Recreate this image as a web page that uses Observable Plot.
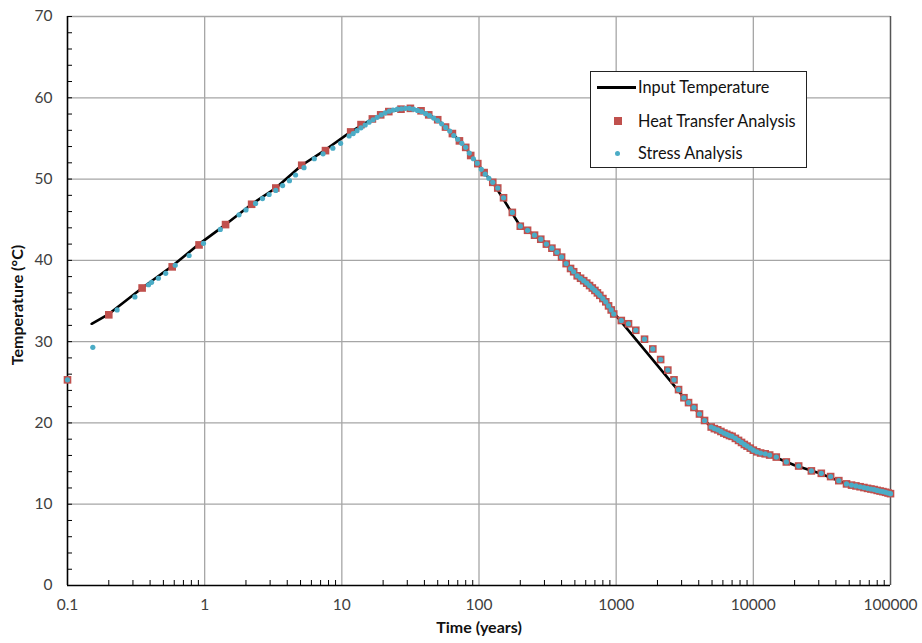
<!DOCTYPE html>
<html><head><meta charset="utf-8">
<script src="https://cdn.jsdelivr.net/npm/d3@7"></script>
<script src="https://cdn.jsdelivr.net/npm/@observablehq/plot@0.6"></script>
<style>
body{margin:0;background:#fff;}
#wrap{position:relative;width:922px;height:643px;font-family:Lato,"Open Sans",sans-serif;}
#legend{position:absolute;left:590px;top:71px;width:217px;height:97px;border:1.3px solid #222;background:#fff;box-sizing:border-box;}
.lt{position:absolute;left:47px;font-size:16.3px;color:#111;line-height:1;transform:translateY(-50%);white-space:nowrap;}
.sw{position:absolute;}
</style></head>
<body><div id="wrap"><div id="legend">
<div class="sw" style="left:6px;top:14px;width:39px;height:2.6px;background:#000;"></div>
<div class="lt" style="top:15px;">Input Temperature</div>
<div class="sw" style="left:22.5px;top:45px;width:8px;height:8px;background:#C0504D;"></div>
<div class="lt" style="top:49px;">Heat Transfer Analysis</div>
<div class="sw" style="left:24px;top:78.5px;width:5px;height:5px;border-radius:50%;background:#4BACC6;"></div>
<div class="lt" style="top:80.5px;">Stress Analysis</div>
</div></div>
<script>
// Tick values
const xTicks = [0.1, 1, 10, 100, 1000, 10000, 100000];
const xTickLabels = ["0.1", "1", "10", "100", "1000", "10000", "100000"];
const yTicks = [0, 10, 20, 30, 40, 50, 60, 70];

// Input Temperature (line)
const inputYears = [0.15, 0.2, 0.35, 0.58, 0.91, 1.42, 2.2, 3.3, 5.1, 7.6, 11.6, 16.7, 22, 27, 31.6, 37.8, 43, 50, 57, 64, 72, 80, 87, 98, 109, 126, 200, 300, 400, 500, 700, 1000, 2800, 3120, 3690, 4410, 4930, 7000, 10000, 13150, 20000, 30000, 47800, 100000];
const inputTemp = [32.2, 33.4, 36.6, 39.3, 42.0, 44.4, 46.9, 48.9, 51.7, 53.6, 55.8, 57.4, 58.3, 58.6, 58.7, 58.4, 57.9, 57.3, 56.4, 55.6, 54.7, 53.9, 52.9, 51.9, 50.8, 49.6, 44.2, 42.3, 40.4, 38.4, 36.3, 33.2, 24.1, 23.1, 21.9, 20.3, 19.5, 18.35, 16.65, 16.05, 14.8, 13.85, 12.5, 11.3];

// Heat Transfer Analysis (squares)
const heatYears = [0.1, 0.2, 0.35, 0.58, 0.91, 1.42, 2.2, 3.3, 5.1, 7.6, 11.6, 13.8, 16.7, 19.2, 22, 27, 31.6, 37.8, 43, 50, 57, 64, 72, 80, 87, 98, 109, 126, 137, 151, 175, 200, 226, 254, 282, 310, 340, 370, 400, 432, 465, 490, 520, 550, 580, 610, 640, 670, 700, 730, 760, 800, 840, 880, 920, 960, 1090, 1230, 1390, 1610, 1850, 2110, 2380, 2640, 2850, 3120, 3370, 3690, 4050, 4410, 4930, 5200, 5500, 5800, 6100, 6400, 6700, 7000, 7400, 7800, 8200, 8600, 9000, 9500, 10000, 10600, 11300, 12200, 13150, 14700, 17400, 21400, 26500, 31300, 36600, 42000, 47800, 52000, 56000, 60000, 64000, 68000, 72000, 76000, 80000, 84000, 88000, 92000, 96000, 100000];
const heatTemp = [25.3, 33.3, 36.6, 39.2, 41.9, 44.4, 46.9, 48.9, 51.7, 53.5, 55.8, 56.7, 57.4, 57.9, 58.3, 58.6, 58.7, 58.4, 57.9, 57.3, 56.4, 55.6, 54.7, 53.9, 52.9, 51.9, 50.8, 49.6, 48.9, 47.7, 45.9, 44.2, 43.7, 43.1, 42.6, 42.0, 41.5, 41.0, 40.4, 39.6, 39.0, 38.6, 38.1, 37.8, 37.5, 37.2, 36.9, 36.6, 36.3, 36.0, 35.7, 35.3, 34.9, 34.4, 33.9, 33.4, 32.6, 32.2, 31.4, 30.3, 29.1, 27.8, 26.5, 25.3, 24.1, 23.1, 22.5, 21.9, 21.1, 20.3, 19.5, 19.3, 19.15, 18.95, 18.75, 18.6, 18.45, 18.35, 18.1, 17.85, 17.6, 17.35, 17.15, 16.9, 16.65, 16.45, 16.3, 16.2, 16.05, 15.8, 15.2, 14.7, 14.1, 13.8, 13.4, 12.9, 12.5, 12.35, 12.25, 12.15, 12.05, 11.95, 11.87, 11.8, 11.7, 11.62, 11.55, 11.47, 11.38, 11.3];

// Stress Analysis (dots) up to ~120 years; later points coincide with heat transfer points
const stressYears = [0.1, 0.153, 0.23, 0.31, 0.39, 0.41, 0.46, 0.52, 0.61, 0.77, 0.98, 1.3, 1.78, 2.0, 2.35, 2.64, 2.95, 3.3, 3.7, 4.15, 4.6, 5.3, 6.3, 7.3, 8.6, 9.8, 11.3, 12.1, 12.9, 13.8, 14.8, 15.8, 16.9, 18.1, 19.4, 20.7, 22.2, 23.7, 25.4, 27.2, 29.1, 31.1, 33.3, 35.6, 38.1, 40.8, 43.6, 46.7, 49.9, 53.4, 57.2, 61.2, 65.5, 70, 75, 80, 85, 91, 97, 104, 111, 118];
const stressTemp = [25.3, 29.3, 33.9, 35.5, 37.0, 37.3, 37.8, 38.4, 39.4, 40.6, 42.1, 43.8, 45.6, 46.2, 47.0, 47.6, 48.1, 48.6, 49.2, 49.8, 50.5, 51.4, 52.5, 53.1, 53.8, 54.4, 55.3, 55.6, 55.95, 56.3, 56.65, 57.0, 57.3, 57.6, 57.9, 58.15, 58.35, 58.5, 58.6, 58.65, 58.7, 58.7, 58.6, 58.45, 58.3, 58.05, 57.8, 57.5, 57.2, 56.8, 56.35, 55.9, 55.35, 54.9, 54.4, 53.9, 53.2, 52.5, 51.95, 51.2, 50.6, 50.1];

const input = inputYears.map((t, i) => ({t, v: inputTemp[i]}));
const heat = heatYears.map((t, i) => ({t, v: heatTemp[i]}));
const stressLate = heat.filter(d => d.t > 120);
const stress = stressYears.map((t, i) => ({t, v: stressTemp[i]})).concat(stressLate);

const xMinor = [];
for (let e = -1; e < 5; e++) for (let m = 2; m <= 9; m++) xMinor.push(m * Math.pow(10, e));
const yMinor = d3.range(0, 71, 2);

const plot = Plot.plot({
  width: 922, height: 643,
  marginLeft: 67, marginRight: 32, marginTop: 16, marginBottom: 58,
  style: {fontFamily: "Lato, 'Open Sans', sans-serif", fontSize: "15.5px", color: "#404040", background: "white"},
  x: {type: "log", domain: [0.1, 100000], label: null},
  y: {domain: [0, 70], label: null},
  marks: [
    Plot.ruleX(xTicks.slice(1, -1), {stroke: "#a6a6a6", strokeWidth: 1.3}),
    Plot.ruleY(yTicks.slice(1), {stroke: "#a6a6a6", strokeWidth: 1.3}),
    Plot.ruleX([100000], {stroke: "#555", strokeWidth: 1.5}),
    Plot.axisX({ticks: xTicks, tickSize: 0, tickPadding: 13, tickFormat: d => xTickLabels[xTicks.indexOf(d)], label: null}),
    Plot.axisY({ticks: yTicks, tickSize: 0, tickPadding: 15, tickFormat: d => String(d), label: null}),
    Plot.axisX({ticks: xMinor, tickSize: -5, tickFormat: () => "", stroke: "#000", label: null}),
    Plot.axisY({ticks: yMinor, tickSize: -5, tickFormat: () => "", stroke: "#000", label: null}),
    Plot.ruleX([0.1], {stroke: "#000", strokeWidth: 1.6}),
    Plot.ruleY([0], {stroke: "#000", strokeWidth: 1.6}),
    Plot.line(input, {x: "t", y: "v", stroke: "#000", strokeWidth: 2.6}),
    Plot.dot(heat, {x: "t", y: "v", symbol: "square", r: 4.3, fill: "#C0504D", stroke: "none"}),
    Plot.dot(stress, {x: "t", y: "v", r: 2.6, fill: "#4BACC6", stroke: "none"}),
    Plot.text(["Time (years)"], {frameAnchor: "bottom", dy: 47, fontWeight: "bold", fontSize: 16, fill: "#111"}),
    Plot.text(["Temperature (°C)"], {frameAnchor: "left", dx: -50, dy: 4, rotate: -90, textAnchor: "middle", fontWeight: "bold", fontSize: 16, fill: "#111"})
  ]
});
document.getElementById("wrap").prepend(plot);
</script>
</body></html>
